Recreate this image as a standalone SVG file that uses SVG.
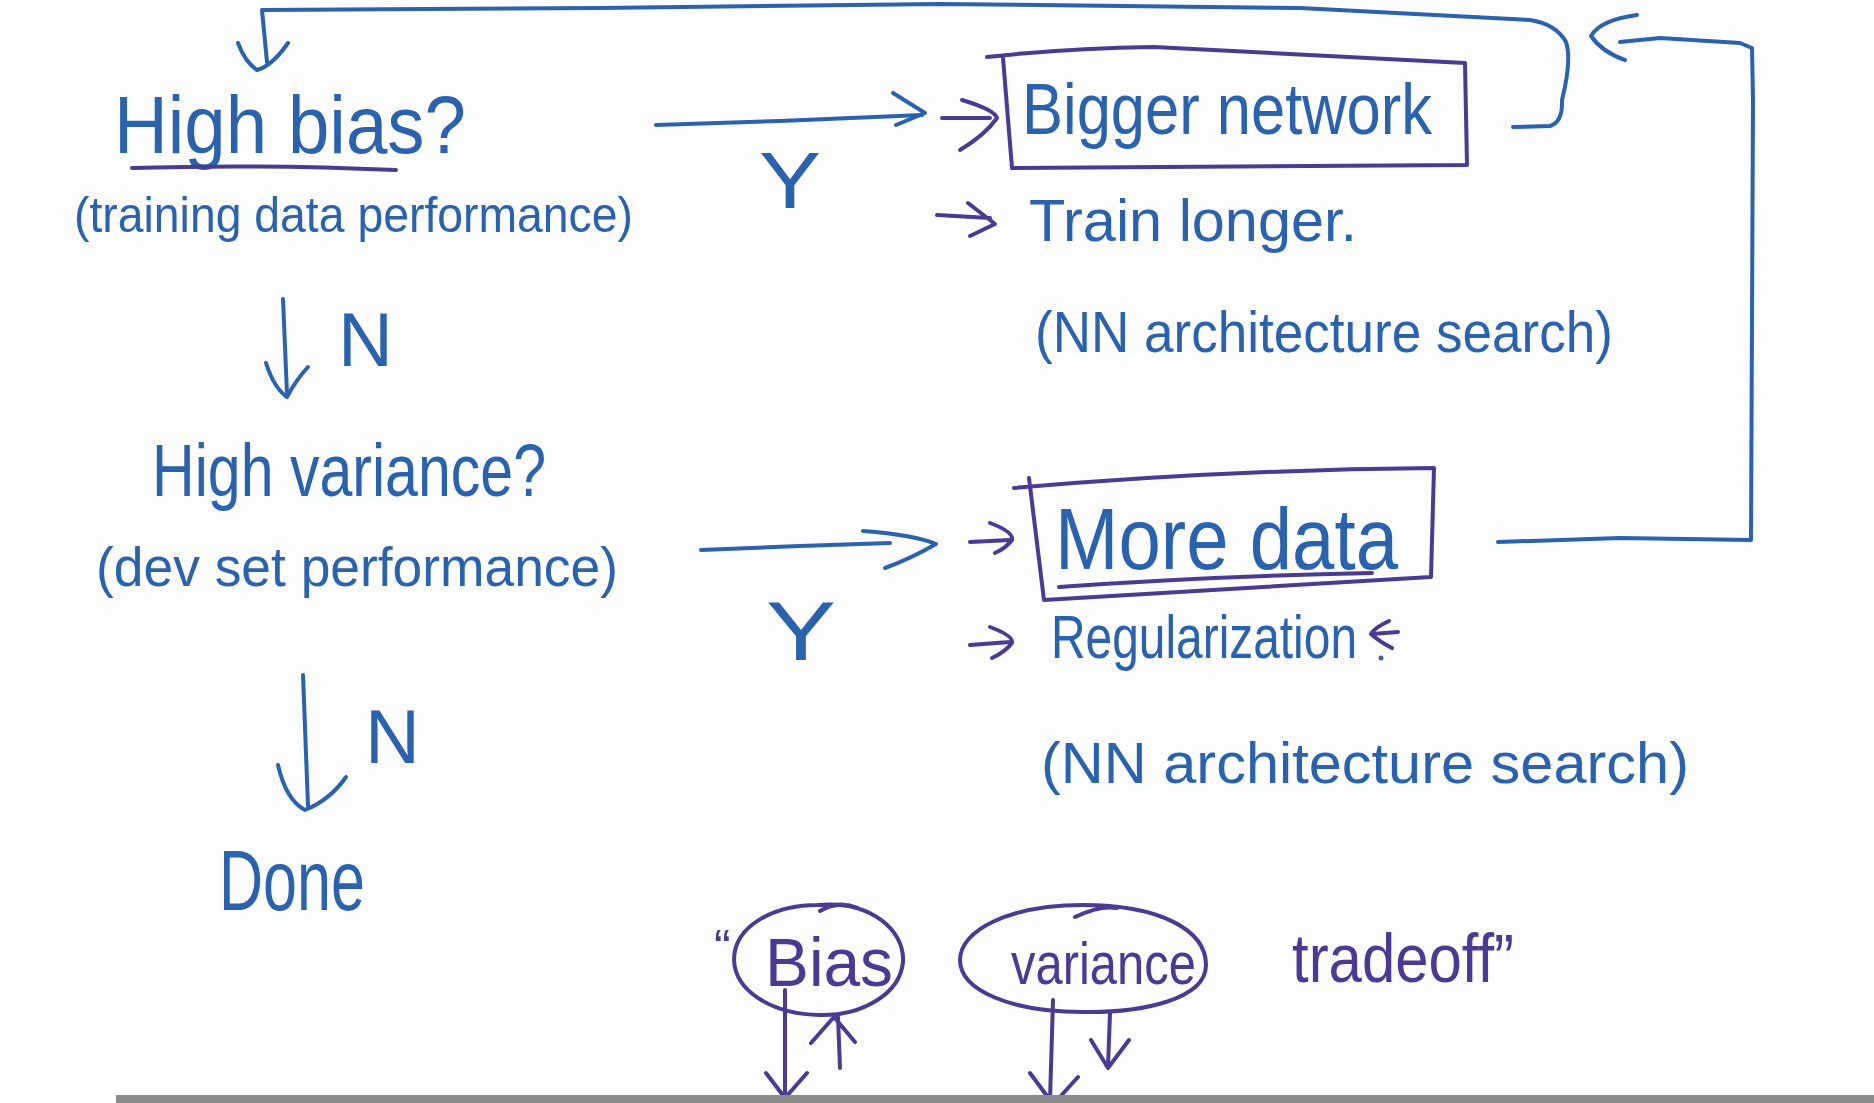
<svg xmlns="http://www.w3.org/2000/svg" width="1874" height="1103" viewBox="0 0 1874 1103">
<style>
.ink{fill:none;stroke:#2a62ad;stroke-width:4;stroke-linecap:round;stroke-linejoin:round}
.pen{fill:none;stroke:#4a3a92;stroke-width:4;stroke-linecap:round;stroke-linejoin:round}
.t{font-family:"Liberation Sans",Arial,sans-serif;fill:#2a62ad}
.tp{font-family:"Liberation Sans",Arial,sans-serif;fill:#4a3a92}
</style>
<rect width="1874" height="1103" fill="#fdfdfd"/>

<g id="connectors">
  <!-- feedback loop from Bigger network back to High bias -->
  <path class="ink" d="M1513,127 L1550,126 Q1563,122 1562,100 Q1572,60 1566,42 Q1556,24 1530,20 L1300,8 L940,4 L600,8 L262,10 L267,62"/>
  <path class="ink" d="M238,43 Q245,62 257,70 Q272,66 288,43"/>
  <!-- feedback loop from More data back to Bigger network -->
  <path class="ink" d="M1498,542 L1620,538 L1751,540 L1753,100 L1752,48 L1740,43 L1660,38 L1620,42"/>
  <path class="ink" d="M1637,15 Q1600,20 1591,36 Q1602,52 1625,60"/>
  <!-- High bias -> Y -> Bigger network -->
  <path class="ink" d="M656,125 L780,121 L922,115"/>
  <path class="ink" d="M893,93 L925,113 L896,125"/>
  <text class="t" x="759" y="208" font-size="80" textLength="62" lengthAdjust="spacingAndGlyphs">Y</text>
  <!-- High bias -> N -> High variance -->
  <path class="ink" d="M283,299 L287,394"/>
  <path class="ink" d="M266,363 Q274,388 287,397 Q296,380 308,367"/>
  <text class="t" x="338" y="366" font-size="76">N</text>
  <!-- High variance -> Y -> More data -->
  <path class="ink" d="M701,550 L800,546 L890,543"/>
  <path class="ink" d="M863,531 Q915,535 936,544 Q912,558 885,568"/>
  <text class="t" x="766" y="660" font-size="84" textLength="70" lengthAdjust="spacingAndGlyphs">Y</text>
  <!-- High variance -> N -> Done -->
  <path class="ink" d="M303,675 L308,806"/>
  <path class="ink" d="M278,765 Q286,800 305,810 Q330,800 346,777"/>
  <text class="t" x="365" y="763" font-size="76">N</text>
  <!-- small purple pointers -->
  <path class="pen" d="M942,118 L990,118 M962,100 Q995,110 997,118 Q985,135 960,150"/>
  <path class="pen" d="M937,215 L990,218 M968,203 L995,224 L970,236"/>
  <path class="pen" d="M970,542 L1010,540 M990,523 Q1014,532 1012,540 Q1006,548 995,553"/>
  <path class="pen" d="M970,645 L1010,642 M990,627 Q1014,636 1012,643 Q1005,652 992,658"/>
  <!-- arrows under Bias / variance -->
  <path class="pen" d="M785,990 L785,1100 M766,1073 L785,1098 L807,1073"/>
  <path class="pen" d="M840,1068 L838,1017 M811,1043 L834,1017 L855,1042"/>
  <path class="pen" d="M1053,1000 L1050,1100 M1030,1073 L1050,1100 M1078,1077 L1059,1098"/>
  <path class="pen" d="M1110,1013 L1108,1067 M1091,1040 L1108,1068 L1129,1040"/>
</g>

<g id="node-high-bias">
  <text class="t" x="114" y="153" font-size="82" textLength="352" lengthAdjust="spacingAndGlyphs">High bias?</text>
  <path class="pen" d="M132,168 Q260,164 396,170"/>
</g>
<g id="node-training-perf">
  <text class="t" x="74" y="232" font-size="50" textLength="559" lengthAdjust="spacingAndGlyphs">(training data performance)</text>
</g>
<g id="node-high-variance">
  <text class="t" x="152" y="496" font-size="74" textLength="394" lengthAdjust="spacingAndGlyphs">High variance?</text>
</g>
<g id="node-dev-perf">
  <text class="t" x="96" y="586" font-size="56" textLength="522" lengthAdjust="spacingAndGlyphs">(dev set performance)</text>
</g>
<g id="node-done">
  <text class="t" x="219" y="910" font-size="86" textLength="146" lengthAdjust="spacingAndGlyphs">Done</text>
</g>

<g id="node-bigger-network">
  <path class="pen" d="M987,57 Q1070,48 1154,47 Q1300,55 1465,63 L1467,165 L1012,168 L1003,58"/>
  <text class="t" x="1022" y="134" font-size="72" textLength="410" lengthAdjust="spacingAndGlyphs">Bigger network</text>
</g>
<g id="node-train-longer">
  <text class="t" x="1029" y="241" font-size="60" textLength="328" lengthAdjust="spacingAndGlyphs">Train longer.</text>
</g>
<g id="node-nn-search-1">
  <text class="t" x="1035" y="352" font-size="58" textLength="578" lengthAdjust="spacingAndGlyphs">(NN architecture search)</text>
</g>
<g id="node-more-data">
  <path class="pen" d="M1014,488 Q1220,470 1434,468 L1431,577 L1044,600 L1029,478"/>
  <path class="pen" d="M1059,587 Q1210,576 1372,573"/>
  <text class="t" x="1055" y="569" font-size="88" textLength="343" lengthAdjust="spacingAndGlyphs">More data</text>
</g>
<g id="node-regularization">
  <text class="t" x="1051" y="658" font-size="62" textLength="306" lengthAdjust="spacingAndGlyphs">Regularization</text>
  <path class="pen" d="M1389,621 Q1374,628 1371,634 Q1380,642 1392,648 M1372,634 L1398,632"/>
  <circle cx="1381" cy="658" r="2.5" fill="#4a5a8a"/>
</g>
<g id="node-nn-search-2">
  <text class="t" x="1041" y="783" font-size="58" textLength="648" lengthAdjust="spacingAndGlyphs">(NN architecture search)</text>
</g>

<g id="node-bias">
  <path class="pen" d="M818,905 C870,900 905,930 903,962 C900,995 860,1016 820,1015 C770,1014 735,990 734,960 C734,925 775,905 818,905 M820,911 Q838,900 858,908"/>
  <text class="tp" x="714" y="965" font-size="50">“</text>
  <text class="tp" x="765" y="986" font-size="68" textLength="128" lengthAdjust="spacingAndGlyphs">Bias</text>
</g>
<g id="node-variance">
  <path class="pen" d="M1083,905 C1160,905 1206,930 1206,965 C1206,1000 1140,1013 1083,1012 C1010,1012 960,990 960,960 C960,930 1010,905 1083,905 M1075,917 Q1100,905 1117,908"/>
  <text class="tp" x="1011" y="984" font-size="60" textLength="185" lengthAdjust="spacingAndGlyphs">variance</text>
</g>
<g id="node-tradeoff">
  <text class="tp" x="1292" y="982" font-size="68" textLength="222" lengthAdjust="spacingAndGlyphs">tradeoff”</text>
</g>

<rect x="116" y="1095" width="1758" height="8" fill="#8a8a8a"/>
</svg>
